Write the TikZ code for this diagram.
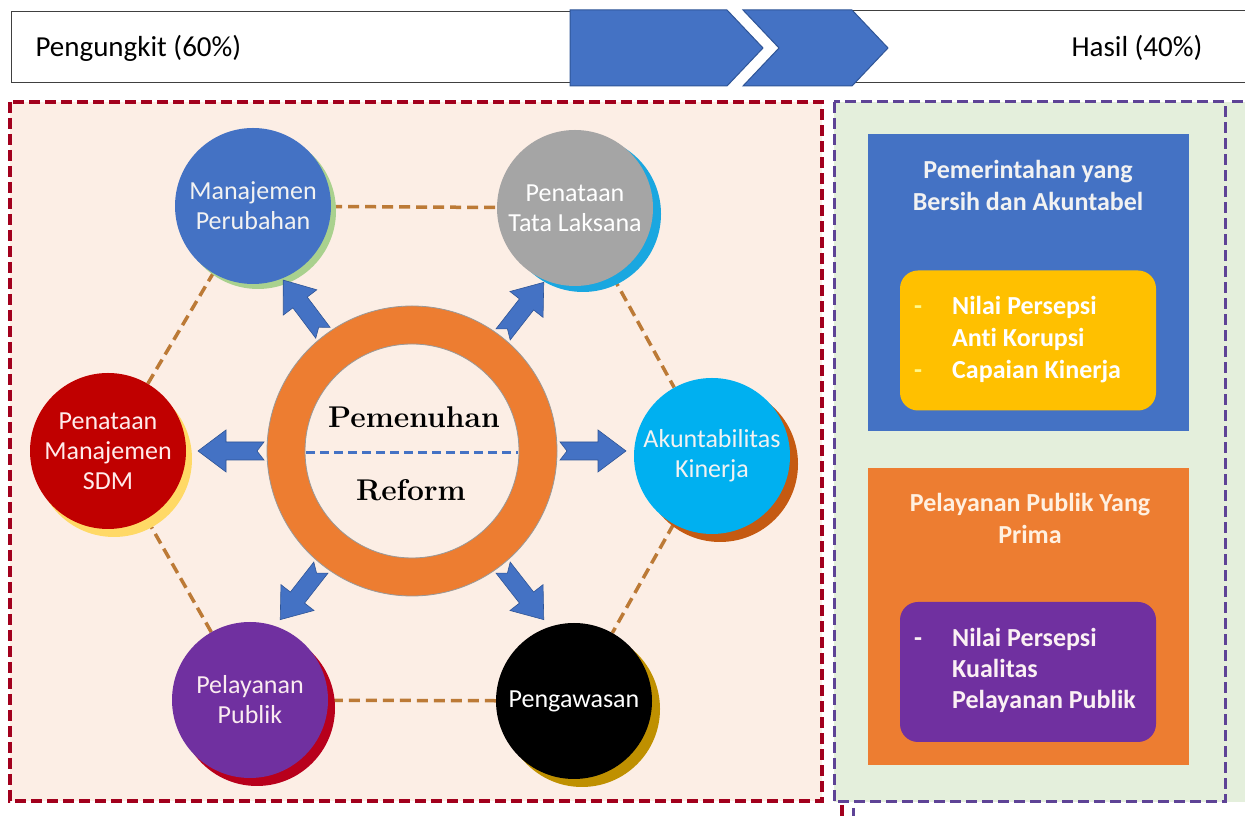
\documentclass[tikz,border=0pt]{standalone}
\usepackage{fontspec}
\newfontfamily\carlito[Ligatures=NoCommon]{Carlito}
\usetikzlibrary{calc,shadows}
\pgfdeclarelayer{bg}
\pgfdeclarelayer{links}
\pgfsetlayers{bg,links,main}
\definecolor{blueC}{HTML}{4472C4}
\definecolor{blueD}{HTML}{2F5597}
\definecolor{grayC}{HTML}{A5A5A5}
\definecolor{skyC}{HTML}{00B0F0}
\definecolor{redC}{HTML}{C00000}
\definecolor{purpleC}{HTML}{7030A0}
\definecolor{orangeC}{HTML}{ED7D31}
\definecolor{yellowC}{HTML}{FFC000}
\definecolor{greenS}{HTML}{A9D18E}
\definecolor{skyS}{HTML}{1AA7E0}
\definecolor{brownS}{HTML}{C55A11}
\definecolor{yellowS}{HTML}{FFD966}
\definecolor{redS}{HTML}{B8001C}
\definecolor{goldS}{HTML}{BF9000}
\definecolor{peach}{HTML}{FCEEE5}
\definecolor{leaf}{HTML}{E4EFDC}
\definecolor{linkc}{HTML}{BC7A36}
\definecolor{redDash}{HTML}{A2001D}
\definecolor{purpDash}{HTML}{5E4396}

\begin{document}
\begin{tikzpicture}[x=1pt,y=1pt,
    hdr/.style={font=\carlito\fontsize{29}{34}\selectfont},
    chev/.style={fill=blueC,draw=blueD,line width=1pt},
    bubble/.style={circle,minimum size=156pt,inner sep=0pt,align=center,
      font=\carlito\fontsize{26}{30}\selectfont},
    link/.style={draw=linkc,line width=3.5pt,dash pattern=on 11pt off 6pt},
    reddash/.style={draw=redDash,line width=3.5pt,dash pattern=on 11pt off 5pt},
    purpdash/.style={draw=purpDash,line width=3pt,dash pattern=on 11pt off 5pt},
    ringtxt/.style={font=\bfseries\fontsize{30}{32}\selectfont},
    rbox/.style={rectangle,minimum width=321pt,minimum height=297pt},
    ibox/.style={rectangle,rounded corners=18pt,minimum width=256pt,minimum height=140pt},
    ttl/.style={align=center,font=\carlito\bfseries\fontsize{26}{32}\selectfont},
    lst/.style={anchor=west,inner sep=0pt,font=\carlito\bfseries\fontsize{26}{32}\selectfont},
    blkarrow/.pic={\path[fill=blueC,draw=blueD,line width=0.6pt]
      (0,9) -- (38,9) -- (38,21) -- (66,0) -- (38,-21) -- (38,-9) -- (0,-9) -- (7,0) -- cycle;}
  ]
\useasboundingbox (0,0) rectangle (1245,816);
\begin{pgfonlayer}{bg}
  \fill[white] (0,0) rectangle (1245,816);
  \fill[peach] (10,714) rectangle (822,15);
  \fill[leaf] (834,714) rectangle (1245,14);
\end{pgfonlayer}

% header
\draw[line width=1pt,draw=black!75] (11,804) rectangle (570,733);
\draw[line width=1pt,draw=black!75] (1260,805) -- (845,805) -- (845,733) -- (1260,733);
\node[hdr,anchor=west] (lev) at (32,768) {Pengungkit (60\%)};
\node[hdr] (res) at (1137,768) {Hasil (40\%)};
\path[chev] (570,806) -- (727,806) -- (763,768) -- (727,730) -- (570,730) -- cycle;
\path[chev] (743,806) -- (852,806) -- (888,768) -- (852,730) -- (743,730) -- (779,768) -- cycle;

% panels
\draw[reddash] (10,714) rectangle (822,15);
\draw[purpdash] (834,714) rectangle (1225,14);
\draw[purpdash] (1232,714) -- (1245,714);
\draw[reddash] (842,11) -- (842,0);
\draw[purpdash] (853,8) -- (853,0);

% circles
\node[bubble,fill=blueC,text=white!95!black,
  general shadow={fill=greenS,shadow xshift=5pt,shadow yshift=-5pt}] (mp) at (253,610) {Manajemen\\Perubahan};
\node[bubble,fill=grayC,text=white,
  general shadow={fill=skyS,shadow xshift=8pt,shadow yshift=-6pt}] (ptl) at (575,608) {Penataan\\Tata Laksana};
\node[bubble,fill=skyC,text=white!95!black,
  general shadow={fill=brownS,shadow xshift=8pt,shadow yshift=-8pt}] (ak) at (712,360) {Akuntabilitas\\Kinerja};
\node[bubble,fill=redC,text=red!8,
  general shadow={fill=yellowS,shadow xshift=6pt,shadow yshift=-8pt}] (sdm) at (108,365) {Penataan\\Manajemen\\SDM};
\node[bubble,fill=purpleC,text=purple!8,
  general shadow={fill=redS,shadow xshift=7pt,shadow yshift=-8pt}] (pp) at (250,116) {Pelayanan\\Publik};
\node[bubble,fill=black,text=white,
  general shadow={fill=goldS,shadow xshift=8pt,shadow yshift=-8pt}] (pw) at (574,115) {Pengawasan};
\begin{pgfonlayer}{links}
  \foreach \a/\b in {mp/ptl,ptl/ak,ak/pw,pw/pp,pp/sdm,sdm/mp}
    \draw[link] (\a) -- (\b);
\end{pgfonlayer}

% ring
\coordinate (ring) at (412,365);
\draw[fill=orangeC,draw=black!40,line width=0.8pt,even odd rule] (ring) circle (145) (ring) circle (107);
\node[ringtxt] (up) at (414,399) {Pemenuhan};
\node[ringtxt] (down) at (411,326) {Reform};
\draw[blueC,line width=3pt,dash pattern=on 9pt off 5pt] ($(ring)+(-106,-2)$) -- ($(ring)+(106,-2)$);
\foreach \ang in {127,52,180,0,232,308}
  \pic[rotate=\ang] at ($(ring)+(\ang:148)$) {blkarrow};

% right side
\node[rbox,fill=blueC] (clean) at (1028.5,533.5) {};
\node[ttl,text=white!95!black] (cleant) at (1028,631) {Pemerintahan yang\\Bersih dan Akuntabel};
\node[ibox,fill=yellowC] (yb) at (1028,475.5) {};
\node[lst,text=white] (yl) at (914,476) {\begin{tabular}{@{}p{38pt}@{}l@{}}
  \textcolor{yellow!45}{-} & Nilai Persepsi\\ & Anti Korupsi\\ \textcolor{yellow!45}{-} & Capaian Kinerja\end{tabular}};
\node[rbox,fill=orangeC] (prime) at (1028.5,199.5) {};
\node[ttl,text=orange!12] (primet) at (1030,298) {Pelayanan Publik Yang\\Prima};
\node[ibox,fill=purpleC] (pb) at (1028,144) {};
\node[lst,text=purple!6,font=\carlito\bfseries\fontsize{26}{31}\selectfont] (pl) at (914,145) {\begin{tabular}{@{}p{38pt}@{}l@{}}
  - & Nilai Persepsi\\ & Kualitas\\ & Pelayanan Publik\end{tabular}};
\end{tikzpicture}
\end{document}
